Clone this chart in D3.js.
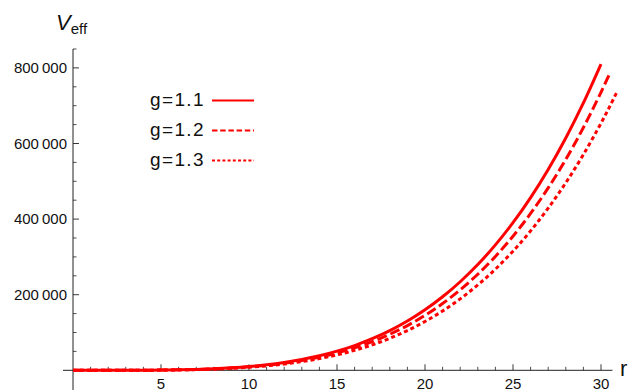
<!DOCTYPE html>
<html>
<head>
<meta charset="utf-8">
<script src="https://cdn.jsdelivr.net/npm/d3@7"></script>
<style>
  body { margin: 0; background: #fff; }
  text { font-family: "Liberation Sans", Arial, sans-serif; fill: #111; }
</style>
</head>
<body>
<svg width="635" height="390"></svg>
<script>
// radius values (r)
const rValues = d3.range(0, 31);
// V_eff for each g
const vG11 = [0, 0, 0, 100, 300, 600, 1300, 2400, 4100, 6600, 10000, 14600, 20700, 28600, 38400, 50600,
  65500, 83500, 105000, 130300, 160000, 194500, 234300, 279800, 331800, 390600, 457000, 531400, 614700, 707300, 810000];
const vG12 = [0, 0, 0, 100, 200, 600, 1200, 2200, 3700, 6000, 9100, 13300, 18800, 25900, 34900, 46000,
  59500, 75800, 95300, 118300, 145300, 176600, 212700, 254100, 301300, 354700, 414900, 482500, 558100, 642200, 735500, 786000];
const vG13 = [0, 0, 0, 100, 200, 500, 1000, 1900, 3300, 5300, 8100, 11800, 16700, 23000, 31000, 40900,
  52900, 67400, 84700, 105200, 129100, 156900, 189000, 225800, 267700, 315200, 368800, 428900, 496000, 570800, 653700, 698400, 736000];
const rG12 = rValues.concat([30.5]);
const rG13 = rValues.concat([30.5, 30.9]);

const legendLabels = ['g=1.1', 'g=1.2', 'g=1.3'];
const xTicks = [5, 10, 15, 20, 25, 30];
const yTicks = [200000, 400000, 600000, 800000];

const series = [
  {label: legendLabels[0], r: rValues, v: vG11, dash: null, legDash: null},
  {label: legendLabels[1], r: rG12, v: vG12, dash: '10,4', legDash: '5.5,2.7'},
  {label: legendLabels[2], r: rG13, v: vG13, dash: '4,3', legDash: '3,2.2'}
];

const svg = d3.select('svg');
const red = '#ff0000', axisColor = '#222';

const xScale = d3.scaleLinear().domain([0, 30]).range([73, 601]);
const yScale = d3.scaleLinear().domain([0, 800000]).range([370.3, 67.9]);

// axes drawn Mathematica-style, crossing at origin
const xAxis = svg.append('g');
xAxis.append('line')
  .attr('x1', xScale(-0.57)).attr('x2', xScale(30.65))
  .attr('y1', yScale(0)).attr('y2', yScale(0))
  .attr('stroke', axisColor).attr('stroke-width', 1);

xAxis.selectAll('.minor')
  .data(d3.range(1, 31).filter(d => d % 5 !== 0))
  .enter().append('line')
  .attr('x1', d => xScale(d)).attr('x2', d => xScale(d))
  .attr('y1', yScale(0)).attr('y2', yScale(0) - 3.5)
  .attr('stroke', axisColor).attr('stroke-width', 0.8);

xAxis.selectAll('.major')
  .data(xTicks)
  .enter().append('line')
  .attr('x1', d => xScale(d)).attr('x2', d => xScale(d))
  .attr('y1', yScale(0)).attr('y2', yScale(0) - 6)
  .attr('stroke', axisColor).attr('stroke-width', 0.9);

xAxis.selectAll('.lbl')
  .data(xTicks)
  .enter().append('text')
  .attr('x', d => xScale(d)).attr('y', 388.5)
  .attr('text-anchor', 'middle')
  .style('font-size', '15px')
  .text(d => d);

const yAxis = svg.append('g');
yAxis.append('line')
  .attr('x1', xScale(0)).attr('x2', xScale(0))
  .attr('y1', yScale(850000)).attr('y2', 392)
  .attr('stroke', axisColor).attr('stroke-width', 1);

yAxis.selectAll('.minor')
  .data(d3.range(50000, 850001, 50000).filter(d => d % 200000 !== 0))
  .enter().append('line')
  .attr('x1', xScale(0)).attr('x2', xScale(0) + 3.5)
  .attr('y1', d => yScale(d)).attr('y2', d => yScale(d))
  .attr('stroke', axisColor).attr('stroke-width', 0.8);

yAxis.selectAll('.major')
  .data(yTicks)
  .enter().append('line')
  .attr('x1', xScale(0)).attr('x2', xScale(0) + 6)
  .attr('y1', d => yScale(d)).attr('y2', d => yScale(d))
  .attr('stroke', axisColor).attr('stroke-width', 0.9);

yAxis.selectAll('.lbl')
  .data(yTicks)
  .enter().append('text')
  .attr('x', 67).attr('y', d => yScale(d) + 5.3)
  .attr('text-anchor', 'end')
  .style('font-size', '15px')
  .text(d => d3.format(',')(d).replace(',', '\u2009'));

// axis labels
const vLab = svg.append('text').attr('x', 56).attr('y', 30).style('font-size', '22px');
vLab.append('tspan').style('font-style', 'italic').text('V');
vLab.append('tspan').attr('dy', 4).style('font-size', '15px').text('eff');

svg.append('text').attr('x', 620).attr('y', 376).style('font-size', '22px').text('r');

// curves
const line = d3.line()
  .x(d => xScale(d[0]))
  .y(d => yScale(d[1]))
  .curve(d3.curveCatmullRom);

svg.selectAll('.curve')
  .data(series)
  .enter().append('path')
  .attr('d', s => line(s.r.map((r, i) => [r, s.v[i]])))
  .attr('fill', 'none')
  .attr('stroke', red)
  .attr('stroke-width', 3)
  .attr('stroke-dasharray', s => s.dash);

// legend
const legend = svg.selectAll('.legend')
  .data(series)
  .enter().append('g')
  .attr('transform', (d, i) => `translate(0, ${105.5 + i * 30})`);

legend.append('text')
  .attr('x', 205).attr('y', 0)
  .attr('text-anchor', 'end')
  .style('font-size', '19px')
  .style('letter-spacing', '1.4px')
  .text(d => d.label);

legend.append('line')
  .attr('x1', 212).attr('x2', 254)
  .attr('y1', -5).attr('y2', -5)
  .attr('stroke', red).attr('stroke-width', 2)
  .attr('stroke-dasharray', d => d.legDash);
</script>
</body>
</html>
